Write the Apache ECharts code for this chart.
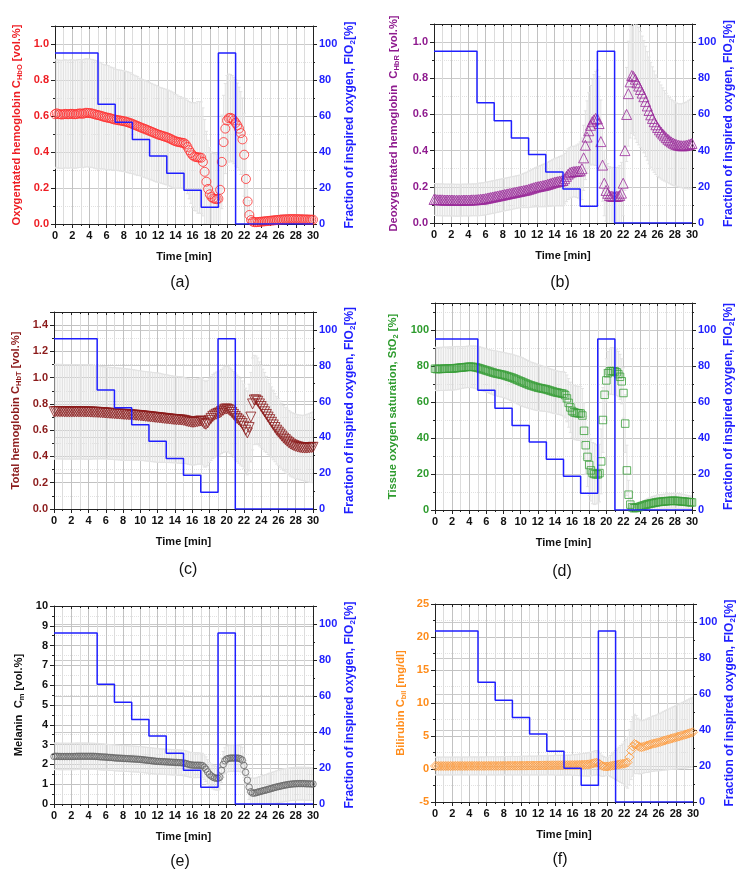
<!DOCTYPE html>
<html><head><meta charset="utf-8">
<script src="https://cdn.jsdelivr.net/npm/echarts@6/dist/echarts.min.js"></script>
<style>html,body{margin:0;padding:0;background:#fff}#c{width:749px;height:879px}</style>
</head><body><div id="c"></div>
<script>
// ---------- DATA ----------
const timeMin = [
0,0.2,0.4,0.6,0.8,1,1.2,1.4,1.6,1.8,
2,2.2,2.4,2.6,2.8,3,3.2,3.4,3.6,3.8,
4,4.2,4.4,4.6,4.8,5,5.2,5.4,5.6,5.8,
6,6.2,6.4,6.6,6.8,7,7.2,7.4,7.6,7.8,
8,8.2,8.4,8.6,8.8,9,9.2,9.4,9.6,9.8,
10,10.2,10.4,10.6,10.8,11,11.2,11.4,11.6,11.8,
12,12.2,12.4,12.6,12.8,13,13.2,13.4,13.6,13.8,
14,14.2,14.4,14.6,14.8,15,15.2,15.4,15.6,15.8,
16,16.2,16.4,16.6,16.8,17,17.2,17.4,17.6,17.8,
18,18.2,18.4,18.6,18.8,19,19.2,19.4,19.6,19.8,
20,20.2,20.4,20.6,20.8,21,21.2,21.4,21.6,21.8,
22,22.2,22.4,22.6,22.8,23,23.2,23.4,23.6,23.8,
24,24.2,24.4,24.6,24.8,25,25.2,25.4,25.6,25.8,
26,26.2,26.4,26.6,26.8,27,27.2,27.4,27.6,27.8,
28,28.2,28.4,28.6,28.8,29,29.2,29.4,29.6,29.8,
30];

const fio2Time  = [0, 5, 7, 9, 11, 13, 15, 17, 19, 21, 30];
const fio2Value = [95, 66.5, 56.5, 47, 37.8, 28.2, 18.8, 9.3, 95, 0, 0];

// (a) oxygenated hemoglobin, mean and SD
const hboMean = [
0.61,0.615,0.61,0.61,0.608,0.61,0.612,0.61,0.61,0.612,
0.612,0.61,0.61,0.612,0.614,0.614,0.612,0.615,0.618,0.617,
0.616,0.615,0.613,0.61,0.607,0.605,0.603,0.6,0.597,0.594,
0.592,0.59,0.588,0.585,0.582,0.58,0.578,0.576,0.575,0.573,
0.571,0.569,0.566,0.563,0.56,0.556,0.552,0.548,0.544,0.54,
0.536,0.532,0.529,0.525,0.521,0.517,0.513,0.509,0.505,0.501,
0.497,0.494,0.491,0.488,0.485,0.482,0.478,0.474,0.469,0.464,
0.46,0.457,0.455,0.453,0.451,0.45,0.442,0.428,0.41,0.395,
0.382,0.375,0.372,0.37,0.37,0.368,0.345,0.29,0.235,0.195,
0.165,0.15,0.142,0.14,0.138,0.14,0.19,0.345,0.455,0.53,
0.575,0.588,0.59,0.585,0.575,0.562,0.548,0.53,0.505,0.47,
0.385,0.25,0.125,0.05,0.022,0.013,0.01,0.01,0.011,0.012,
0.013,0.014,0.015,0.016,0.017,0.018,0.019,0.02,0.021,0.022,
0.023,0.024,0.025,0.025,0.026,0.026,0.027,0.027,0.027,0.027,
0.027,0.027,0.026,0.026,0.026,0.025,0.025,0.025,0.024,0.024,
0.024];
const hboSd = [
0.3,0.3,0.3,0.3,0.3,0.3,0.3,0.3,0.3,0.3,
0.3,0.3,0.3,0.3,0.3,0.3,0.3,0.3,0.3,0.3,
0.3,0.3,0.3,0.3,0.3,0.3,0.295,0.295,0.29,0.29,
0.29,0.29,0.285,0.285,0.285,0.28,0.28,0.28,0.28,0.28,
0.28,0.28,0.28,0.28,0.28,0.275,0.275,0.275,0.275,0.27,
0.27,0.27,0.27,0.27,0.27,0.268,0.268,0.268,0.268,0.268,
0.265,0.265,0.265,0.265,0.265,0.265,0.265,0.265,0.265,0.265,
0.26,0.26,0.255,0.255,0.25,0.25,0.255,0.26,0.27,0.28,
0.29,0.3,0.3,0.31,0.31,0.31,0.3,0.29,0.28,0.27,
0.26,0.25,0.25,0.25,0.25,0.25,0.25,0.26,0.26,0.25,
0.25,0.245,0.24,0.24,0.24,0.24,0.235,0.23,0.23,0.23,
0.23,0.2,0.15,0.08,0.04,0.025,0.02,0.02,0.02,0.02,
0.02,0.02,0.02,0.021,0.021,0.022,0.022,0.023,0.023,0.024,
0.024,0.025,0.025,0.025,0.026,0.026,0.026,0.026,0.026,0.026,
0.026,0.026,0.026,0.025,0.025,0.025,0.025,0.024,0.024,0.024,
0.024];

// (b) deoxygenated hemoglobin
const hbrMean = [
0.13,0.13,0.128,0.128,0.128,0.128,0.127,0.127,0.127,0.127,
0.127,0.127,0.126,0.126,0.126,0.126,0.126,0.127,0.127,0.127,
0.127,0.127,0.128,0.128,0.128,0.129,0.13,0.131,0.132,0.133,
0.135,0.137,0.139,0.141,0.143,0.145,0.147,0.149,0.151,0.153,
0.155,0.157,0.159,0.161,0.163,0.165,0.167,0.169,0.171,0.173,
0.175,0.177,0.179,0.181,0.183,0.186,0.189,0.192,0.195,0.198,
0.2,0.202,0.204,0.206,0.208,0.21,0.213,0.216,0.219,0.222,
0.225,0.227,0.229,0.231,0.233,0.235,0.245,0.258,0.27,0.278,
0.282,0.284,0.285,0.286,0.287,0.288,0.3,0.36,0.43,0.475,
0.51,0.54,0.56,0.57,0.578,0.575,0.55,0.45,0.32,0.22,
0.18,0.164,0.152,0.148,0.147,0.147,0.147,0.148,0.152,0.165,
0.22,0.4,0.6,0.715,0.78,0.815,0.81,0.795,0.775,0.757,
0.738,0.718,0.698,0.672,0.647,0.622,0.598,0.578,0.56,0.543,
0.528,0.515,0.503,0.492,0.482,0.472,0.463,0.455,0.448,0.442,
0.437,0.433,0.43,0.428,0.427,0.427,0.428,0.43,0.433,0.436,
0.44];
const hbrSd = [
0.088,0.088,0.088,0.088,0.088,0.088,0.088,0.088,0.088,0.088,
0.088,0.088,0.088,0.088,0.088,0.088,0.088,0.088,0.088,0.088,
0.088,0.088,0.088,0.088,0.088,0.089,0.09,0.09,0.09,0.09,
0.09,0.09,0.09,0.09,0.09,0.09,0.09,0.09,0.09,0.09,
0.09,0.09,0.09,0.09,0.09,0.09,0.09,0.09,0.09,0.09,
0.09,0.092,0.094,0.096,0.098,0.1,0.102,0.104,0.106,0.108,
0.11,0.112,0.114,0.116,0.118,0.12,0.122,0.124,0.126,0.128,
0.13,0.132,0.134,0.136,0.138,0.14,0.14,0.14,0.14,0.14,
0.14,0.14,0.14,0.145,0.15,0.16,0.17,0.18,0.19,0.2,
0.21,0.22,0.235,0.25,0.26,0.27,0.26,0.23,0.2,0.18,
0.17,0.165,0.16,0.16,0.16,0.16,0.16,0.16,0.165,0.17,
0.18,0.22,0.26,0.29,0.31,0.32,0.325,0.33,0.33,0.325,
0.32,0.315,0.31,0.305,0.3,0.295,0.29,0.285,0.28,0.275,
0.27,0.265,0.26,0.255,0.25,0.245,0.24,0.238,0.236,0.234,
0.232,0.23,0.23,0.23,0.232,0.235,0.238,0.24,0.245,0.248,
0.25];

// (c) total hemoglobin
const hbtMean = [
0.74,0.742,0.742,0.741,0.741,0.741,0.74,0.74,0.74,0.74,
0.74,0.74,0.74,0.74,0.74,0.74,0.74,0.74,0.739,0.739,
0.739,0.738,0.738,0.737,0.737,0.736,0.735,0.734,0.733,0.732,
0.731,0.73,0.729,0.728,0.727,0.726,0.725,0.724,0.723,0.722,
0.721,0.72,0.719,0.718,0.717,0.716,0.715,0.714,0.713,0.712,
0.711,0.709,0.708,0.706,0.705,0.703,0.702,0.7,0.699,0.697,
0.696,0.694,0.693,0.691,0.69,0.688,0.687,0.685,0.684,0.682,
0.681,0.68,0.679,0.678,0.677,0.675,0.672,0.668,0.665,0.662,
0.66,0.66,0.662,0.665,0.668,0.67,0.665,0.65,0.645,0.655,
0.675,0.69,0.705,0.715,0.722,0.728,0.732,0.742,0.752,0.76,
0.762,0.758,0.748,0.735,0.72,0.705,0.69,0.678,0.665,0.65,
0.63,0.6,0.58,0.62,0.7,0.8,0.83,0.83,0.82,0.8,
0.78,0.76,0.74,0.72,0.7,0.68,0.66,0.64,0.62,0.6,
0.585,0.57,0.555,0.54,0.528,0.516,0.505,0.495,0.488,0.482,
0.477,0.473,0.47,0.467,0.465,0.464,0.464,0.465,0.466,0.468,
0.47];
const hbtSd = [
0.36,0.36,0.36,0.36,0.36,0.36,0.36,0.36,0.36,0.36,
0.36,0.36,0.36,0.36,0.36,0.36,0.36,0.36,0.36,0.36,
0.36,0.36,0.358,0.356,0.355,0.354,0.353,0.352,0.351,0.35,
0.35,0.35,0.35,0.35,0.35,0.35,0.35,0.35,0.35,0.35,
0.35,0.35,0.349,0.348,0.347,0.346,0.345,0.344,0.343,0.342,
0.341,0.34,0.34,0.34,0.34,0.34,0.34,0.34,0.34,0.34,
0.34,0.34,0.338,0.336,0.335,0.334,0.333,0.332,0.331,0.33,
0.33,0.33,0.33,0.33,0.33,0.328,0.326,0.325,0.325,0.325,
0.325,0.325,0.325,0.325,0.325,0.33,0.33,0.33,0.325,0.325,
0.32,0.32,0.32,0.32,0.32,0.32,0.32,0.32,0.322,0.325,
0.325,0.325,0.325,0.325,0.327,0.33,0.33,0.33,0.33,0.325,
0.32,0.32,0.32,0.33,0.34,0.35,0.34,0.335,0.33,0.32,
0.31,0.305,0.3,0.29,0.285,0.275,0.27,0.265,0.26,0.258,
0.255,0.252,0.25,0.248,0.246,0.245,0.245,0.245,0.245,0.245,
0.245,0.245,0.246,0.247,0.248,0.25,0.254,0.258,0.262,0.266,
0.27];

// (d) tissue oxygen saturation
const sto2Mean = [
78.5,78.3,78.3,78.4,78.4,78.5,78.5,78.5,78.6,78.6,
78.6,78.7,78.8,78.9,79.0,79.1,79.2,79.3,79.4,79.5,
79.6,79.6,79.5,79.4,79.2,79.0,78.7,78.4,78.1,77.8,
77.5,77.2,76.9,76.6,76.3,76.0,75.8,75.6,75.4,75.2,
75.0,74.7,74.4,74.1,73.8,73.5,73.1,72.7,72.3,71.9,
71.5,71.1,70.7,70.3,69.9,69.5,69.2,68.9,68.6,68.3,
68.0,67.8,67.6,67.4,67.2,67.0,66.7,66.4,66.1,65.8,
65.5,65.3,65.1,64.9,64.7,64.5,63.8,62,59.5,57,
55,54.3,54,53.8,53.7,53.6,52.5,44,36,29.5,
25,22,20.5,20,19.8,19.8,20.5,27,50,64,
72,76,77,77.2,77.1,77,76.5,75.5,74,71.5,
65,48,22,8.5,3,1.5,1.0,1.1,1.3,1.6,
2.0,2.3,2.6,2.9,3.2,3.4,3.6,3.8,4.0,4.2,
4.4,4.5,4.6,4.7,4.8,4.9,5.0,5.0,5.1,5.1,
5.1,5.0,5.0,4.9,4.8,4.7,4.6,4.5,4.4,4.3,
4.2];
const sto2Sd = [
12,12,12,12,12,12,12,12,12,12,
12,12,12,12,11.8,11.7,11.6,11.5,11.5,11.5,
11.5,11.5,11.6,11.7,11.8,12,12,12,12,12,
12,12,12.1,12.2,12.3,12.4,12.5,12.5,12.5,12.5,
12.5,12.6,12.7,12.8,12.9,13,13.1,13.2,13.3,13.4,
13.5,13.5,13.4,13.3,13.2,13.1,13,13,13,12.9,
12.8,12.7,12.6,12.5,12.4,12.3,12.2,12.1,12.1,12.1,
12,12,12,12,12.1,12.3,12.6,13,13.5,14,
14.5,15,15,15,15,15,15,15.5,16,16.5,
17,17,17,17,16.5,16,16,18,18,14,
12,12,12.5,13,13,13,12.8,12.6,12.5,12.5,
14,16,14,8,4,3,2.5,2.2,2,2,
2,2.2,2.5,2.8,3,3.3,3.5,3.7,3.8,3.9,
4,4,4,4,4,4,4,4,4,4.1,
4.2,4.2,4.2,4.1,4,3.9,3.8,3.7,3.6,3.5,
3.5];

// (e) melanin
const melMean = [
2.4,2.41,2.41,2.4,2.4,2.4,2.4,2.4,2.4,2.4,
2.4,2.4,2.4,2.41,2.41,2.41,2.41,2.41,2.41,2.41,
2.41,2.41,2.41,2.41,2.4,2.4,2.39,2.38,2.38,2.37,
2.37,2.36,2.35,2.35,2.34,2.33,2.32,2.32,2.31,2.31,
2.3,2.3,2.29,2.29,2.28,2.28,2.27,2.27,2.26,2.26,
2.25,2.24,2.23,2.22,2.21,2.2,2.19,2.18,2.17,2.16,
2.15,2.15,2.14,2.14,2.13,2.13,2.12,2.12,2.11,2.11,
2.1,2.1,2.09,2.09,2.08,2.07,2.05,2.03,2.0,1.98,
1.97,1.96,1.96,1.96,1.96,1.95,1.94,1.86,1.76,1.62,
1.5,1.42,1.36,1.32,1.3,1.3,1.35,1.7,2.0,2.18,
2.27,2.3,2.32,2.32,2.32,2.32,2.32,2.31,2.28,2.22,
1.95,1.6,1.2,0.85,0.62,0.55,0.55,0.57,0.6,0.62,
0.64,0.67,0.69,0.71,0.74,0.76,0.79,0.81,0.84,0.86,
0.88,0.9,0.92,0.94,0.96,0.97,0.99,1.0,1.01,1.02,
1.02,1.03,1.03,1.03,1.03,1.03,1.02,1.02,1.02,1.01,
1.01];
const melSd = [
0.67,0.67,0.67,0.67,0.67,0.67,0.67,0.67,0.67,0.67,
0.67,0.67,0.67,0.67,0.67,0.67,0.67,0.67,0.67,0.67,
0.66,0.66,0.66,0.66,0.66,0.66,0.66,0.66,0.66,0.66,
0.65,0.65,0.65,0.65,0.65,0.65,0.65,0.65,0.65,0.65,
0.65,0.65,0.65,0.65,0.65,0.65,0.65,0.65,0.65,0.65,
0.65,0.65,0.65,0.65,0.65,0.65,0.65,0.65,0.65,0.65,
0.64,0.64,0.64,0.64,0.64,0.64,0.64,0.64,0.64,0.64,
0.64,0.64,0.64,0.64,0.64,0.64,0.64,0.64,0.63,0.63,
0.63,0.63,0.63,0.63,0.62,0.62,0.62,0.62,0.62,0.62,
0.6,0.6,0.6,0.6,0.6,0.6,0.6,0.62,0.65,0.66,
0.66,0.67,0.67,0.67,0.67,0.67,0.67,0.66,0.65,0.64,
0.62,0.6,0.6,0.62,0.7,0.75,0.75,0.75,0.75,0.76,
0.76,0.77,0.77,0.78,0.79,0.8,0.8,0.81,0.81,0.82,
0.82,0.82,0.83,0.83,0.83,0.83,0.83,0.83,0.83,0.83,
0.83,0.83,0.83,0.83,0.83,0.83,0.83,0.83,0.83,0.83,
0.83];

// (f) bilirubin
const bilMean = [
0.45,0.45,0.45,0.45,0.45,0.45,0.45,0.45,0.45,0.45,
0.45,0.45,0.46,0.46,0.46,0.46,0.46,0.46,0.46,0.46,
0.47,0.47,0.47,0.47,0.47,0.47,0.47,0.47,0.47,0.47,
0.48,0.48,0.48,0.48,0.48,0.48,0.48,0.48,0.49,0.49,
0.49,0.49,0.49,0.5,0.5,0.5,0.5,0.5,0.5,0.5,
0.51,0.51,0.51,0.51,0.52,0.52,0.52,0.52,0.52,0.53,
0.53,0.53,0.54,0.54,0.54,0.55,0.55,0.55,0.56,0.56,
0.56,0.57,0.57,0.57,0.58,0.58,0.58,0.59,0.59,0.6,
0.6,0.61,0.61,0.62,0.63,0.64,0.65,0.66,0.68,0.7,
0.72,0.78,0.85,0.92,0.95,0.9,0.7,0.5,0.4,0.38,
0.38,0.4,0.45,0.5,0.55,0.6,0.65,0.7,0.75,0.78,
0.82,0.9,1.0,1.8,2.8,3.4,3.8,3.7,3.5,3.35,
3.3,3.36,3.45,3.52,3.6,3.7,3.78,3.85,3.9,3.96,
4.04,4.1,4.2,4.28,4.35,4.44,4.5,4.58,4.66,4.72,
4.8,4.88,4.95,5.03,5.1,5.18,5.25,5.34,5.42,5.5,
5.58];
const bilSd = [
1.35,1.35,1.35,1.35,1.35,1.35,1.35,1.35,1.35,1.35,
1.35,1.35,1.35,1.35,1.35,1.35,1.35,1.35,1.35,1.35,
1.36,1.36,1.36,1.36,1.36,1.36,1.36,1.36,1.36,1.36,
1.38,1.38,1.38,1.38,1.38,1.38,1.38,1.38,1.38,1.38,
1.4,1.4,1.4,1.4,1.4,1.4,1.4,1.4,1.4,1.4,
1.42,1.42,1.42,1.42,1.42,1.42,1.42,1.42,1.42,1.42,
1.45,1.45,1.45,1.45,1.45,1.45,1.45,1.45,1.45,1.45,
1.5,1.5,1.5,1.5,1.5,1.5,1.5,1.5,1.5,1.5,
1.55,1.55,1.6,1.6,1.65,1.65,1.7,1.7,1.75,1.75,
1.8,1.8,1.8,1.85,1.85,1.8,1.7,1.6,1.5,1.4,
1.35,1.4,1.6,1.8,2.0,2.2,2.4,2.6,2.8,3.0,
3.3,3.6,3.9,4.2,4.4,4.5,4.5,4.4,4.2,4.1,
4.0,4.0,4.0,4.05,4.1,4.1,4.15,4.2,4.2,4.25,
4.3,4.35,4.4,4.45,4.5,4.55,4.6,4.65,4.7,4.75,
4.8,4.85,4.9,4.95,5.0,5.05,5.1,5.15,5.2,5.25,
5.3];

// ---------- STYLE / LAYOUT ----------
const FONT = '"Liberation Sans", Arial, Helvetica, sans-serif';
const BLUE = '#1f1fff';
const AXIS = '#222';

const panels = [
  {grid:{left:55,top:26,width:258,height:198}, mean:hboMean, sd:hboSd, txt:'#ee1d23', mk:'#ff3030',
   symbol:'circle', size:9, rot:0, yMin:0, yMax:1.1, yInt:0.2, dec:1, showMax:false, rMax:110,
   pre:'Oxygentated hemoglobin C', sub:'HbO', post:' [vol.%]', gap:31, cap:'(a)', cx:180, cy:283},
  {grid:{left:434,top:24,width:258,height:199}, mean:hbrMean, sd:hbrSd, txt:'#8e1a8e', mk:'#9a2a9a',
   symbol:'triangle', size:10, rot:0, yMin:0, yMax:1.1, yInt:0.2, dec:1, showMax:false, rMax:110,
   pre:'Deoxygentated hemoglobin  C', sub:'HbR', post:' [vol.%]', gap:33, cap:'(b)', cx:560, cy:283},
  {grid:{left:54,top:312,width:259,height:197}, mean:hbtMean, sd:hbtSd, txt:'#8b1a1a', mk:'#8b1a1a',
   symbol:'triangle', size:10, rot:180, yMin:0, yMax:1.5, yInt:0.2, dec:1, showMax:false, rMax:110,
   pre:'Total hemoglobin C', sub:'HbT', post:' [vol.%]', gap:31, cap:'(c)', cx:188, cy:570},
  {grid:{left:435,top:303,width:257,height:207}, mean:sto2Mean, sd:sto2Sd, txt:'#2d9b2d', mk:'#3a9f3a',
   symbol:'rect', size:7.5, rot:0, yMin:0, yMax:115, yInt:20, dec:0, showMax:false, rMax:115,
   pre:'Tissue oxygen saturation, StO', sub:'2', post:' [%]', gap:35, cap:'(d)', cx:562, cy:572},
  {grid:{left:54,top:606,width:259,height:198}, mean:melMean, sd:melSd, txt:'#111', mk:'#666',
   symbol:'circle', size:6.5, rot:0, yMin:0, yMax:10, yInt:1, dec:0, showMax:true, rMax:110,
   pre:'Melanin  C', sub:'m', post:' [vol.%]', gap:28, cap:'(e)', cx:180, cy:862},
  {grid:{left:435,top:604,width:258,height:198}, mean:bilMean, sd:bilSd, txt:'#ff8c1a', mk:'#ff9a3a',
   symbol:'diamond', size:9, rot:0, yMin:-5, yMax:25, yInt:5, dec:0, showMax:true, rMax:110,
   pre:'Bilirubin C', sub:'bil', post:' [mg/dl]', gap:27, cap:'(f)', cx:560, cy:860}
];

function errRender(params, api) {
  const x = api.value(0), m = api.value(1), s = api.value(2);
  const hi = api.coord([x, m + s]);
  const lo = api.coord([x, m - s]);
  const cw = 1.6;
  const st = {stroke: '#e3e3e3', lineWidth: 1};
  return {type: 'group', children: [
    {type: 'line', shape: {x1: hi[0], y1: hi[1], x2: lo[0], y2: lo[1]}, style: st},
    {type: 'line', shape: {x1: hi[0] - cw, y1: hi[1], x2: hi[0] + cw, y2: hi[1]}, style: st},
    {type: 'line', shape: {x1: lo[0] - cw, y1: lo[1], x2: lo[0] + cw, y2: lo[1]}, style: st}
  ]};
}

const grids = [], xAxes = [], yAxes = [], series = [], graphics = [];
const gridLine = {color: '#c2c2c2', width: 1};
const minorLine = {color: '#e2e2e2', width: 1, type: 'dotted'};
const NAME_L = 11.2, NAME_R = 12;

panels.forEach((p, i) => {
  grids.push(Object.assign({containLabel: false}, p.grid));
  // bottom x
  xAxes.push({type: 'value', gridIndex: i, min: 0, max: 30, interval: 2, position: 'bottom',
    axisLine: {show: true, onZero: false, lineStyle: {color: AXIS, width: 1}},
    axisTick: {show: true, length: 4, lineStyle: {color: AXIS}},
    minorTick: {show: true, splitNumber: 2, length: 2, lineStyle: {color: AXIS}},
    axisLabel: {color: '#111', fontWeight: 'bold', fontSize: 11, fontFamily: FONT, margin: 6},
    splitLine: {show: true, lineStyle: gridLine},
    minorSplitLine: {show: true, lineStyle: {color: '#dcdcdc', width: 1}},
    name: 'Time [min]', nameLocation: 'middle', nameGap: 27,
    nameTextStyle: {color: '#111', fontWeight: 'bold', fontSize: 11, fontFamily: FONT}});
  // top x (frame)
  xAxes.push({type: 'value', gridIndex: i, min: 0, max: 30, interval: 2, position: 'top',
    axisLine: {show: true, onZero: false, lineStyle: {color: AXIS, width: 1}},
    axisTick: {show: true, inside: true, length: 3, lineStyle: {color: AXIS}},
    minorTick: {show: true, splitNumber: 2, length: 2, lineStyle: {color: AXIS}},
    axisLabel: {show: false}, splitLine: {show: false}});
  // left y
  yAxes.push({type: 'value', gridIndex: i, min: p.yMin, max: p.yMax, interval: p.yInt, position: 'left',
    axisLine: {show: true, onZero: false, lineStyle: {color: AXIS, width: 1}},
    axisTick: {show: true, length: 4, lineStyle: {color: AXIS}},
    minorTick: {show: true, splitNumber: 2, length: 2, lineStyle: {color: AXIS}},
    axisLabel: {color: p.txt, fontWeight: 'bold', fontSize: 11, fontFamily: FONT, margin: 6,
      showMaxLabel: p.showMax, formatter: (v) => Number(v).toFixed(p.dec)},
    splitLine: {show: true, lineStyle: gridLine},
    minorSplitLine: {show: true, lineStyle: minorLine},
    name: '{n|' + p.pre + '}{s|' + p.sub + '}{n|' + p.post + '}',
    nameLocation: 'middle', nameRotate: 90, nameGap: p.gap,
    nameTextStyle: {color: p.txt, fontWeight: 'bold', fontSize: NAME_L, fontFamily: FONT,
      rich: {
        n: {color: p.txt, fontWeight: 'bold', fontSize: NAME_L, fontFamily: FONT, lineHeight: 15, verticalAlign: 'middle'},
        s: {color: p.txt, fontWeight: 'bold', fontSize: 7.5, fontFamily: FONT, verticalAlign: 'bottom'}
      }}});
  // right y (FiO2)
  yAxes.push({type: 'value', gridIndex: i, min: 0, max: p.rMax, interval: 20, position: 'right',
    axisLine: {show: true, onZero: false, lineStyle: {color: AXIS, width: 1}},
    axisTick: {show: true, length: 4, lineStyle: {color: AXIS}},
    minorTick: {show: true, splitNumber: 2, length: 2, lineStyle: {color: AXIS}},
    axisLabel: {color: BLUE, fontWeight: 'bold', fontSize: 11, fontFamily: FONT, margin: 6, showMaxLabel: false},
    splitLine: {show: true, lineStyle: {color: '#cacaca', width: 1}},
    name: '{n|Fraction of inspired oxygen, FIO}{s|2}{n|[%]}',
    nameLocation: 'middle', nameRotate: 90, nameGap: 29,
    nameTextStyle: {color: BLUE, fontWeight: 'bold', fontSize: NAME_R, fontFamily: FONT,
      rich: {
        n: {color: BLUE, fontWeight: 'bold', fontSize: NAME_R, fontFamily: FONT, lineHeight: 15, verticalAlign: 'middle'},
        s: {color: BLUE, fontWeight: 'bold', fontSize: 8, fontFamily: FONT, verticalAlign: 'bottom'}
      }}});

  const errData = timeMin.map((t, k) => [t, p.mean[k], p.sd[k]]);
  const ptData = timeMin.map((t, k) => [t, p.mean[k]]);
  series.push({type: 'custom', xAxisIndex: 2 * i, yAxisIndex: 2 * i, renderItem: errRender,
    encode: {x: 0, y: 1}, data: errData, clip: true, silent: true, z: 1, animation: false});
  series.push({type: 'scatter', xAxisIndex: 2 * i, yAxisIndex: 2 * i, data: ptData,
    symbol: p.symbol, symbolSize: p.size, symbolRotate: p.rot, silent: true, z: 2, animation: false,
    itemStyle: {color: 'rgba(255,255,255,0)', borderColor: p.mk, borderWidth: 1}});
  series.push({type: 'line', xAxisIndex: 2 * i, yAxisIndex: 2 * i + 1, step: 'end',
    data: fio2Time.map((t, k) => [t, fio2Value[k]]), symbol: 'none', silent: true, z: 3, animation: false,
    lineStyle: {color: BLUE, width: 1.5}});

  graphics.push({type: 'text', x: p.cx, y: p.cy,
    style: {text: p.cap, font: '16px ' + FONT, fill: '#111', align: 'center', verticalAlign: 'middle'}});
});

const chart = echarts.init(document.getElementById('c'), null, {renderer: 'canvas'});
chart.setOption({
  animation: false,
  backgroundColor: '#fff',
  grid: grids, xAxis: xAxes, yAxis: yAxes, series: series, graphic: graphics
});
</script></body></html>
